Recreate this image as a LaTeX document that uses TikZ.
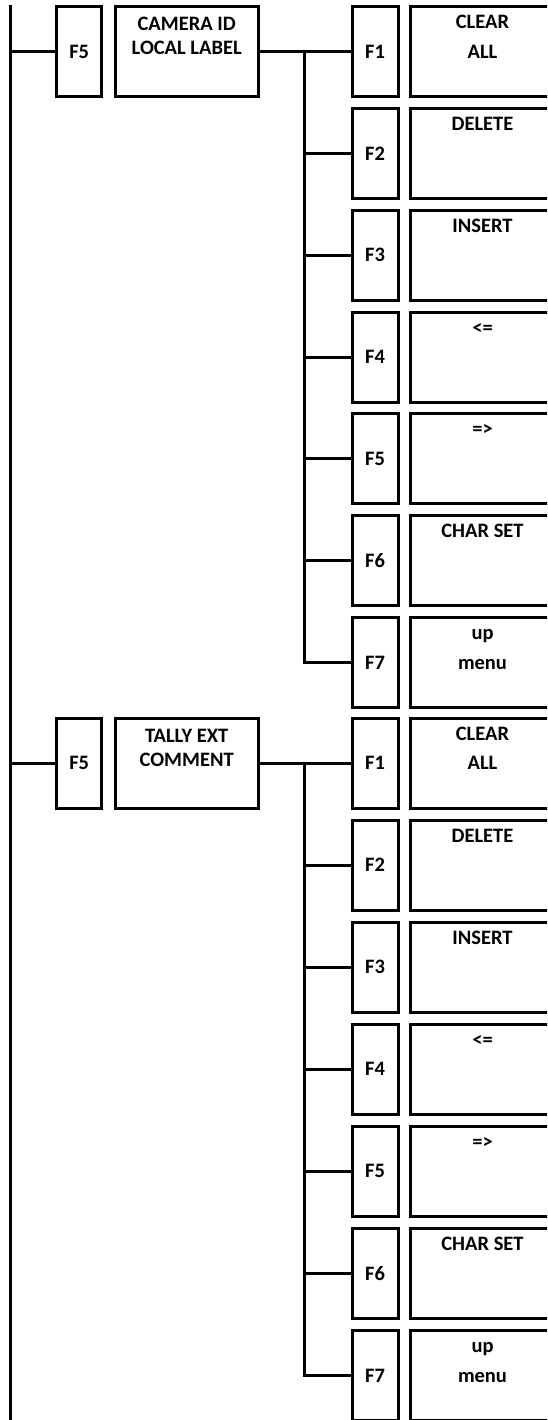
\documentclass[tikz,border=0pt]{standalone}
\usepackage{fontspec}
\setmainfont{Carlito}
\begin{document}
\begin{tikzpicture}[x=1pt,y=-1pt,
  conn/.style={line width=3pt},
  box/.style={draw, line width=3pt, inner sep=0pt},
  lbl/.style={font=\fontsize{20.5}{24}\selectfont\bfseries},
  fkey/.style={box, lbl, minimum width=46pt, minimum height=90pt},
  rbox/.style={box, minimum width=145pt, minimum height=90pt},
  mbox/.style={box, minimum width=143.3pt, minimum height=90pt},
  rtext/.style={lbl, anchor=base, inner sep=0pt}
]
\useasboundingbox (0,0) rectangle (547,1420);
\clip (0,0) rectangle (547,1420);
% main vertical line
\coordinate (top) at (10.5,5);
\coordinate (bot) at (10.5,1425);
\draw[conn, line width=2.6pt] (top) -- (bot);

% ---------- group 1 ----------
\node[fkey, minimum width=45pt] (af5) at (79.2,51.7) {F5};
\node[mbox] (acam) at (186.7,51.7) {};
\node[rtext] (acam1) at (186.7,30.7) {CAMERA ID};
\node[rtext] (acam2) at (186.7,54.7) {LOCAL LABEL};
\draw[conn] (af5.west -| top) -- (af5.west);
\foreach \t [count=\k from 0] in {CLEAR,DELETE,INSERT,{<=},{=>},CHAR SET,up} {
  \pgfmathsetmacro\cy{51.7+101.8*\k}
  \node[fkey] (af\k) at (375,\cy) {F\the\numexpr\k+1\relax};
  \node[rbox] (ar\k) at (482.5,\cy) {};
  \node[rtext] (at\k) at (482.5,\cy-23) {\t};
  \coordinate (aj\k) at (304.3,\cy);
  \draw[conn] (aj\k) -- (af\k.west);
}
\node[rtext] (at0b) at (482.5,51.7+6.5) {ALL};
\node[rtext] (at6b) at (482.5,51.7+6*101.8+6.5) {menu};
\draw[conn] (acam.east) -- (af0.west);
\draw[conn] (aj0) |- (af6.west);

% ---------- group 2 ----------
\node[fkey, minimum width=45pt] (bf5) at (79.2,763) {F5};
\node[mbox] (bcam) at (186.7,763) {};
\node[rtext] (bcam1) at (186.7,742.5) {TALLY EXT};
\node[rtext] (bcam2) at (186.7,766.5) {COMMENT};
\draw[conn] (bf5.west -| top) -- (bf5.west);
\foreach \t [count=\k from 0] in {CLEAR,DELETE,INSERT,{<=},{=>},CHAR SET,up} {
  \pgfmathsetmacro\cy{763+102.1*\k}
  \node[fkey] (bf\k) at (375,\cy) {F\the\numexpr\k+1\relax};
  \node[rbox] (br\k) at (482.5,\cy) {};
  \node[rtext] (bt\k) at (482.5,\cy-23) {\t};
  \coordinate (bj\k) at (304.3,\cy);
  \draw[conn] (bj\k) -- (bf\k.west);
}
\node[rtext] (bt0b) at (482.5,763+6.5) {ALL};
\node[rtext] (bt6b) at (482.5,763+6*102.1+6.5) {menu};
\draw[conn] (bcam.east) -- (bf0.west);
\draw[conn] (bj0) |- (bf6.west);
\end{tikzpicture}
\end{document}
